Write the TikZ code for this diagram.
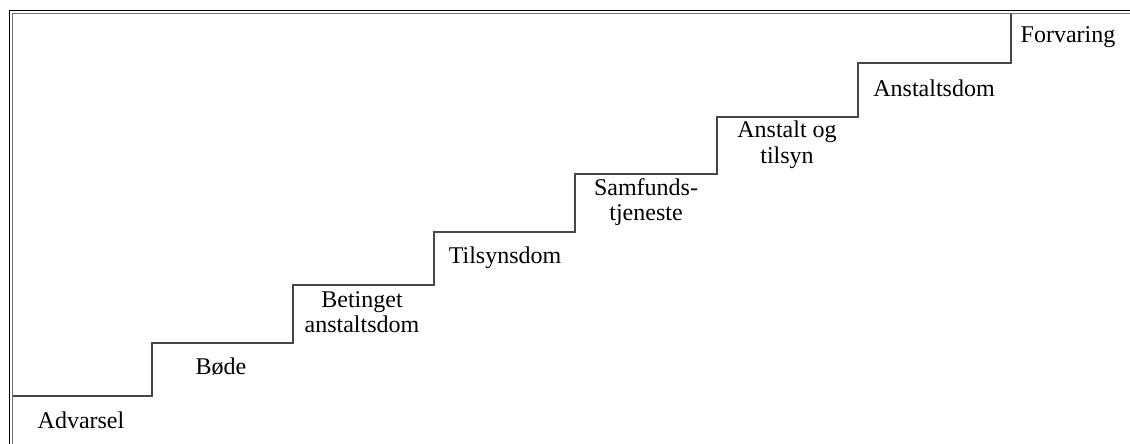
\documentclass[tikz,border=0pt]{standalone}
\usepackage{fontspec}
\setmainfont{Liberation Serif}
\begin{document}
\begin{tikzpicture}[x=1pt,y=-1pt,
  stair/.style={draw=black!72, line width=1.6pt, line join=miter},
  frameline/.style={draw=black, line width=1.2pt},
  innerline/.style={draw=black!55, line width=1.2pt},
  lbl/.style={font=\fontsize{24}{25.5}\selectfont, align=center, inner sep=0pt, text=black}]
\useasboundingbox (0,0) rectangle (1130,444);
% frame (double line, top and left)
\draw[frameline] (9.5,444) -- (9.5,10.5) -- (1130,10.5);
\draw[innerline] (12.5,444) -- (12.5,13.5) -- (1130,13.5);
% staircase
\draw[stair] (13,396) -- (152,396) -- (152,343) -- (293,343) -- (293,285)
  -- (434,285) -- (434,232) -- (575,232) -- (575,174) -- (717,174)
  -- (717,117) -- (858,117) -- (858,63) -- (1011,63) -- (1011,14);
% labels
\node[lbl] (advarsel) at (81,420) {Advarsel};
\node[lbl] (bode) at (221,367) {Bøde};
\node[lbl] (betinget) at (362,312) {Betinget\\anstaltsdom};
\node[lbl] (tilsynsdom) at (505,258) {Tilsynsdom};
\node[lbl] (samfund) at (646,202) {Samfunds-\\tjeneste};
\node[lbl] (anstaltog) at (787,145) {Anstalt og\\tilsyn};
\node[lbl] (anstaltsdom) at (934,88) {Anstaltsdom};
\node[lbl] (forvaring) at (1068,37) {Forvaring};
\end{tikzpicture}
\end{document}
